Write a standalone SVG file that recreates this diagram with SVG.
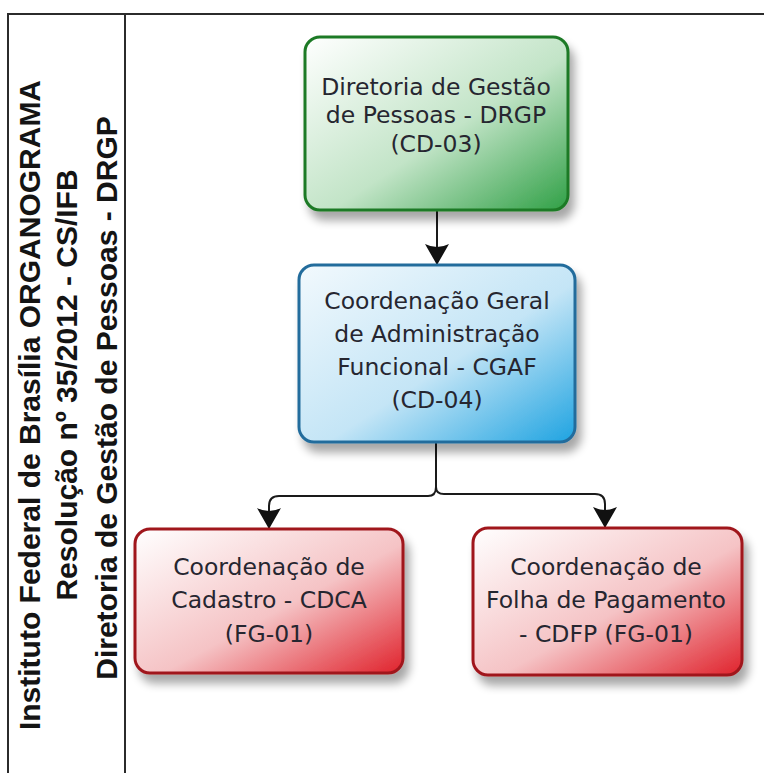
<svg xmlns="http://www.w3.org/2000/svg" width="764" height="773" viewBox="0 0 764 773">
  <style>
    .frame { fill: none; stroke: #2b2b2b; stroke-width: 2; }
    .title { font-family: "Liberation Sans", Arial, sans-serif; font-weight: bold; font-size: 30px; fill: #141414; text-anchor: middle; }
    .box { stroke-width: 3; filter: url(#shadow); }
    .label { font-family: "DejaVu Sans", "Open Sans", sans-serif; font-size: 23.5px; fill: #262630; text-anchor: middle; }
    .conn { fill: none; stroke: #1a1a1a; stroke-width: 2; }
  </style>
  <defs>
    <linearGradient id="gGreen" x1="0" y1="0" x2="1" y2="1">
      <stop offset="0" stop-color="#ffffff"/>
      <stop offset="0.55" stop-color="#c2e4c7"/>
      <stop offset="1" stop-color="#30a046"/>
    </linearGradient>
    <linearGradient id="gBlue" x1="0" y1="0" x2="1" y2="1">
      <stop offset="0" stop-color="#f2f9fd"/>
      <stop offset="0.55" stop-color="#c4e5f6"/>
      <stop offset="1" stop-color="#1ea3e1"/>
    </linearGradient>
    <linearGradient id="gRed" x1="0" y1="0" x2="1" y2="1">
      <stop offset="0" stop-color="#ffffff"/>
      <stop offset="0.55" stop-color="#f5c3c5"/>
      <stop offset="1" stop-color="#e0222c"/>
    </linearGradient>
    <filter id="shadow" x="-10%" y="-10%" width="130%" height="140%">
      <feGaussianBlur in="SourceAlpha" stdDeviation="5"/>
      <feOffset dx="5" dy="9" result="b"/>
      <feComponentTransfer><feFuncA type="linear" slope="0.35"/></feComponentTransfer>
      <feMerge><feMergeNode/><feMergeNode in="SourceGraphic"/></feMerge>
    </filter>
    <marker id="arrow" markerUnits="userSpaceOnUse" markerWidth="24" markerHeight="26" viewBox="0 -13 22 26" refX="21" refY="0" orient="auto">
      <path d="M0,-12 L21,0 L0,12 Q6,0 0,-12 Z" fill="#111"/>
    </marker>
  </defs>

  <!-- title frame -->
  <g id="frame">
    <path class="frame" d="M8,773 V14 H764 M125,14 V773"/>
  </g>

  <!-- vertical title block -->
  <g id="title">
    <text class="title" transform="translate(40,405) rotate(-90)">Instituto Federal de Brasília ORGANOGRAMA</text>
    <text class="title" transform="translate(77,385) rotate(-90)">Resolução nº 35/2012 - CS/IFB</text>
    <text class="title" transform="translate(117,398) rotate(-90)">Diretoria de Gestão de Pessoas -  DRGP</text>
  </g>

  <!-- connectors -->
  <g id="connectors">
    <path class="conn" d="M437,210 V265" marker-end="url(#arrow)"/>
    <path class="conn" d="M436,442 V487 Q436,496 428,496 H279 Q269,496 269,506 V529" marker-end="url(#arrow)"/>
    <path class="conn" d="M436,487 Q436,494 444,494 H595 Q605,494 605,504 V528" marker-end="url(#arrow)"/>
  </g>

  <g id="drgp">
    <rect class="box" x="305" y="37" width="263" height="173" rx="15" fill="url(#gGreen)" stroke="#1f7a25"/>
    <text class="label" x="436" y="95">Diretoria de Gestão<tspan x="436" dy="28">de Pessoas - DRGP</tspan><tspan x="436" dy="29">(CD-03)</tspan></text>
  </g>

  <g id="cgaf">
    <rect class="box" x="299" y="265" width="276" height="177" rx="15" fill="url(#gBlue)" stroke="#236c9c"/>
    <text class="label" x="437" y="309">Coordenação Geral<tspan x="437" dy="33">de Administração</tspan><tspan x="437" dy="33">Funcional  - CGAF</tspan><tspan x="437" dy="33">(CD-04)</tspan></text>
  </g>

  <g id="cdca">
    <rect class="box" x="135" y="529" width="268" height="144" rx="15" fill="url(#gRed)" stroke="#a0171d"/>
    <text class="label" x="269" y="575">Coordenação de<tspan x="269" dy="33">Cadastro - CDCA</tspan><tspan x="269" dy="34">(FG-01)</tspan></text>
  </g>

  <g id="cdfp">
    <rect class="box" x="473" y="528" width="269" height="147" rx="15" fill="url(#gRed)" stroke="#a0171d"/>
    <text class="label" x="606" y="575">Coordenação de<tspan x="606" dy="33">Folha de Pagamento</tspan><tspan x="606" dy="34">- CDFP (FG-01)</tspan></text>
  </g>
</svg>
